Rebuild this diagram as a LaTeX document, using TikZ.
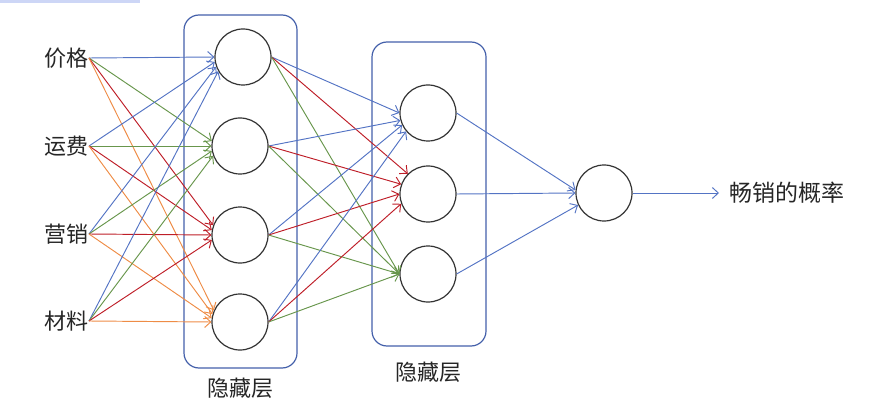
\documentclass[tikz,border=0pt]{standalone}
\usepackage{fontspec}
\newfontfamily\cjk{Noto Sans CJK SC}
\usetikzlibrary{arrows.meta}
\definecolor{cblue}{RGB}{84,116,196}
\definecolor{cgreen}{RGB}{104,150,76}
\definecolor{cred}{RGB}{190,30,40}
\definecolor{corange}{RGB}{238,140,70}
\definecolor{cbox}{RGB}{68,96,170}
\definecolor{cbar}{RGB}{205,214,246}
\tikzset{
  neuron/.style={circle,draw=black!80,line width=1.2pt,minimum size=56pt,inner sep=0pt},
  lbl/.style={font=\cjk\fontsize{22}{26}\selectfont,inner sep=0pt,text=black!85},
  conn/.style={line width=0.95pt,-{Straight Barb[length=6pt,width=11pt]}},
  layerbox/.style={draw=cbox,line width=1.2pt,rounded corners=15pt}
}
\begin{document}
\begin{tikzpicture}[x=1pt,y=-1pt]
\useasboundingbox (0,0) rectangle (880,414);
\fill[cbar] (0,0) rectangle (140,3.5);
% boxes
\draw[layerbox] (184,15) rectangle (297,368);
\draw[layerbox] (372,42) rectangle (486,346);
% inputs
\node[lbl,anchor=east] (i1) at (89,58) {价格};
\node[lbl,anchor=east] (i2) at (89,146) {运费};
\node[lbl,anchor=east] (i3) at (89,234) {营销};
\node[lbl,anchor=east] (i4) at (89,321) {材料};
% hidden 1
\node[neuron] (a1) at (243,57) {};
\node[neuron] (a2) at (240,146) {};
\node[neuron] (a3) at (240,235) {};
\node[neuron] (a4) at (240,322) {};
% hidden 2
\node[neuron] (b1) at (428,113) {};
\node[neuron] (b2) at (428,194) {};
\node[neuron] (b3) at (428,274) {};
% output
\node[neuron] (o) at (604,193) {};
\node[lbl,anchor=west,font=\cjk\fontsize{23}{26}\selectfont] (t) at (729,193) {畅销的概率};
\node[lbl] (l1) at (240,388) {隐藏层};
\node[lbl] (l2) at (428,372) {隐藏层};
% input -> hidden1
\foreach \i in {1,2,3,4}{
  \pgfmathtruncatemacro{\aa}{180+10*(\i-1)}
  \pgfmathtruncatemacro{\ab}{180+10*(\i-2)}
  \pgfmathtruncatemacro{\ac}{180+10*(\i-3)}
  \pgfmathtruncatemacro{\ad}{180+8*(\i-4)}
  \draw[conn,cblue] (i\i.east) -- (a1.\aa);
  \draw[conn,cgreen] (i\i.east) -- (a2.\ab);
  \draw[conn,cred] (i\i.east) -- (a3.\ac);
  \draw[conn,corange] (i\i.east) -- (a4.\ad);
}
% hidden1 -> hidden2
\foreach \i/\p/\q in {1/180/135,2/195/160,3/205/180,4/220/200}{
  \draw[conn,cblue] (a\i.east) -- (b1.\p);
  \draw[conn,cred] (a\i.east) -- (b2.\q);
  \draw[conn,cgreen] (a\i.east) -- (b3.west);
}
% hidden2 -> output
\foreach \i/\p in {1/174,2/180,3/205}{
  \draw[conn,cblue] (b\i.east) -- (o.\p);
}
\draw[conn,cblue,shorten >=10pt] (o) -- (t.west);
\end{tikzpicture}
\end{document}
